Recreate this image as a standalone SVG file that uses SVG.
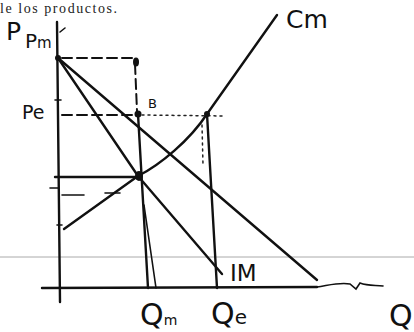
<svg xmlns="http://www.w3.org/2000/svg" width="414" height="332" viewBox="0 0 414 332">
<style>
.ln{stroke:#111;stroke-width:2.4;fill:none;stroke-linecap:round;stroke-linejoin:round}
.thin{stroke:#111;stroke-width:1.6;fill:none;stroke-linecap:round}
.dash{stroke:#111;stroke-width:2;fill:none;stroke-dasharray:10 5;stroke-linecap:round}
.dot{stroke:#222;stroke-width:1.5;fill:none;stroke-dasharray:2 4;stroke-linecap:round}
.hw{font-family:"DejaVu Sans","Liberation Sans",sans-serif;fill:#111}
.pt{fill:#111}
</style>
<rect width="414" height="332" fill="#fff"/>
<line x1="0" y1="257" x2="414" y2="257" stroke="#aaa" stroke-width="1"/>
<text x="0" y="12.5" font-family="'Liberation Serif',serif" font-size="14" textLength="117" fill="#222">le los productos.</text>

<g id="axes">
<path class="ln" d="M57,22 L60,302"/>
<path class="ln" d="M42,288 L317,287"/>
<path class="thin" d="M317,287 C330,285 340,282 350,284 L356,289 L360,283 C368,286 375,285 383,286"/>
<path class="thin" d="M55,100 L61,100 M50,188 L58,188 M57,225 L62,225 M60,32 L65,28"/>
</g>

<g id="connectors">
<path id="demand" class="ln" d="M58,58 L317,280"/>
<path id="im" class="ln" d="M58,58 L138,176 L222,274"/>
<path id="cm" class="ln" d="M64,229 L138,176 C160,165 190,140 207,114 L277,15"/>
<path class="dash" stroke-dasharray="14 3" d="M62,58 L132,58"/>
<path class="dash" stroke-dasharray="4 3" d="M135,64 L137,111"/>
<path class="dash" d="M62,115 L136,115"/>
<path class="dot" stroke-width="1.8" d="M142,115 L225,116"/>
<path class="ln" d="M138,114 L148,288"/>
<path class="thin" d="M144,205 L156,288"/>
<path class="ln" d="M207,114 L217,288"/>
<path class="dot" d="M202,125 L203,165"/>
<path class="ln" stroke-width="2" d="M55,177 L137,177"/>
<path class="thin" d="M62,195 L84,195 M105,193 L120,193"/>
</g>

<g id="points">
<ellipse class="pt" cx="136" cy="62" rx="3" ry="4.5"/>
<circle class="pt" cx="138" cy="114" r="3.5"/>
<circle class="pt" cx="207" cy="114" r="3"/>
<ellipse class="pt" cx="139" cy="176" rx="4" ry="5"/>
<circle class="pt" cx="58" cy="58" r="3"/>
</g>

<g id="labels">
<text class="hw" x="6" y="40" font-size="25">P</text>
<text class="hw" x="25" y="48" font-size="20">P<tspan font-size="15">m</tspan></text>
<text class="hw" x="22" y="119" font-size="19">Pe</text>
<text class="hw" x="148" y="108" font-size="13">B</text>
<text class="hw" x="286" y="28" font-size="25">Cm</text>
<text class="hw" x="230" y="281" font-size="23">IM</text>
<text class="hw" x="140" y="325" font-size="30">Q<tspan font-size="14">m</tspan></text>
<text class="hw" x="211" y="324" font-size="30">Q<tspan font-size="20">e</tspan></text>
<text class="hw" x="389" y="326" font-size="30">Q</text>
</g>
</svg>
